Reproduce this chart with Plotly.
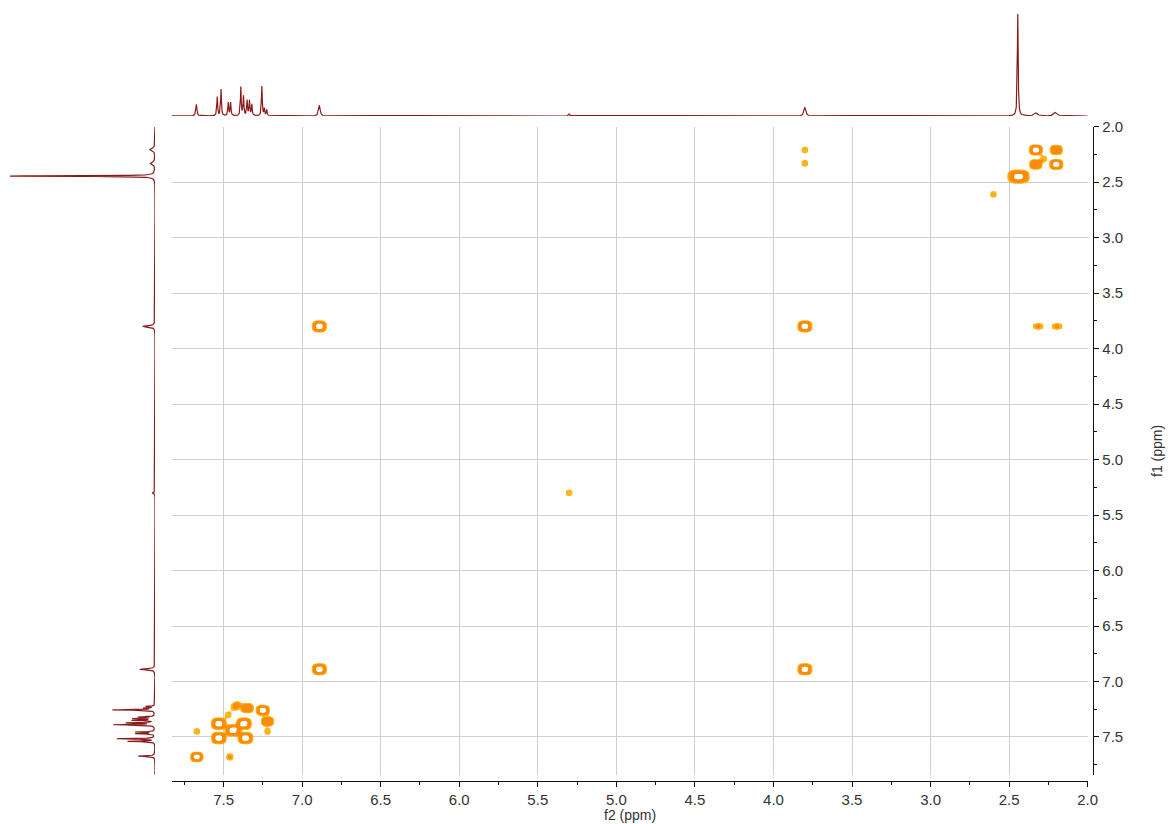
import numpy as np
import plotly.graph_objects as go

# ---------------- data ----------------
# 1D proton spectrum peak list (ppm, relative height, half-width ppm)
spec_ppm = [7.673, 7.540, 7.516, 7.470, 7.455, 7.390, 7.373, 7.350, 7.335, 7.320,
            7.256, 7.240, 7.225, 6.890, 5.300, 3.800, 2.445, 2.330, 2.205]
spec_height = [0.115, 0.185, 0.26, 0.13, 0.13, 0.28, 0.19, 0.15, 0.145, 0.11,
               0.29, 0.07, 0.06, 0.105, 0.02, 0.085, 1.0, 0.03, 0.035]
spec_width = [0.004, 0.003, 0.003, 0.003, 0.003, 0.003, 0.003, 0.003, 0.003, 0.003,
              0.003, 0.003, 0.003, 0.006, 0.005, 0.007, 0.003, 0.012, 0.012]

# 2D cross peaks (f2 ppm, f1 ppm, relative intensity, linewidth f2, linewidth f1)
cp_f2 = [2.33, 2.20, 2.33, 2.20, 2.28, 2.44, 2.60,
         3.80, 3.80, 3.80, 3.80, 6.89, 6.89,
         2.33, 2.30, 2.21, 2.18, 5.30,
         7.67, 7.67, 7.46, 7.53, 7.53, 7.44, 7.37, 7.36, 7.35, 7.25, 7.22,
         7.43, 7.41, 7.22, 7.47]
cp_f1 = [2.21, 2.21, 2.34, 2.34, 2.29, 2.45, 2.61,
         2.21, 2.33, 3.80, 6.89, 3.80, 6.89,
         3.80, 3.80, 3.80, 3.80, 5.30,
         7.68, 7.45, 7.68, 7.38, 7.51, 7.44, 7.38, 7.51, 7.24, 7.26, 7.36,
         7.23, 7.21, 7.45, 7.30]
cp_int = [1.0, 0.7, 0.75, 1.0, 0.28, 0.95, 0.28,
          0.28, 0.28, 1.0, 1.0, 1.0, 1.0,
          0.28, 0.28, 0.28, 0.28, 0.28,
          1.0, 0.28, 0.35, 1.0, 1.0, 1.0, 1.0, 1.0, 0.7, 1.0, 0.7,
          0.3, 0.28, 0.28, 0.28]
cp_w2 = [0.036, 0.036, 0.036, 0.036, 0.024, 0.058, 0.024,
         0.024, 0.024, 0.0385, 0.0385, 0.0385, 0.0385,
         0.022, 0.022, 0.022, 0.022, 0.024,
         0.034, 0.024, 0.024, 0.04, 0.04, 0.04, 0.04, 0.04, 0.036, 0.036, 0.036,
         0.028, 0.024, 0.024, 0.024]
cp_w1 = [0.040, 0.040, 0.040, 0.040, 0.034, 0.052, 0.034,
         0.034, 0.034, 0.0437, 0.0437, 0.0437, 0.0437,
         0.030, 0.030, 0.030, 0.030, 0.034,
         0.038, 0.034, 0.034, 0.045, 0.045, 0.045, 0.045, 0.045, 0.04, 0.04, 0.04,
         0.038, 0.034, 0.034, 0.034]

x_range = [7.83, 2.0]
y_range = [7.84, 2.0]

# ---------------- build curves ----------------
ppm_axis = np.arange(2.0, 7.845, 0.0005)
spec = np.zeros_like(ppm_axis)
for p, h, w in zip(spec_ppm, spec_height, spec_width):
    spec += h / (1.0 + ((ppm_axis - p) / w) ** 2)

gx = np.arange(2.0, 7.84, 0.008)
gy = np.arange(2.0, 7.85, 0.008)
GX, GY = np.meshgrid(gx, gy)
Z = np.zeros_like(GX)
for a, b, A, s2, s1 in zip(cp_f2, cp_f1, cp_int, cp_w2, cp_w1):
    Z += A * np.exp(-(np.abs((GX - a) / s2) ** 3 + np.abs((GY - b) / s1) ** 3))
Z = Z.astype(np.float32)

W, H = 1168, 824
def px(x):
    return x / W
def py(y):
    return 1 - y / H

SPEC_COLOR = "#8a1a1a"
FONT = "Liberation Sans, Arial, Helvetica, sans-serif"
CLEAR = "rgba(255,255,255,0)"
YEL = "#FFB417"
ORA = "#F88C0E"

# value v -> colorscale position (v - 0.125) / 0.9 for levels 0.15..1.0 step 0.05
def s(v):
    return (v - 0.125) / 0.9

cscale = [[0, CLEAR], [s(0.15), CLEAR], [s(0.15), YEL], [s(0.3), YEL],
          [s(0.3), ORA], [s(0.85), ORA], [s(0.85), "#ffffff"], [1, "#ffffff"]]

fig = go.Figure()
fig.add_trace(go.Contour(
    x=gx, y=gy, z=Z, xaxis="x", yaxis="y",
    contours=dict(start=0.15, end=1.0, size=0.05, coloring="fill", showlines=False),
    line=dict(width=0, smoothing=1),
    colorscale=cscale, zmin=0.125, zmax=1.025, zauto=False,
    showscale=False, hoverinfo="skip",
))
fig.add_trace(go.Scatter(
    x=ppm_axis, y=spec, xaxis="x2", yaxis="y2", mode="lines",
    line=dict(color=SPEC_COLOR, width=1.2), hoverinfo="skip", showlegend=False,
))
fig.add_trace(go.Scatter(
    x=spec, y=ppm_axis, xaxis="x3", yaxis="y3", mode="lines",
    line=dict(color=SPEC_COLOR, width=1.2), hoverinfo="skip", showlegend=False,
))

tickfont = dict(family=FONT, size=15, color="#333333")
xdom = [px(171.7), px(1087.7)]
ydom = [py(774.7), py(126.7)]

common = dict(showline=True, linecolor="#111111", linewidth=1,
              ticks="outside", ticklen=5, tickcolor="#111111", tickwidth=1,
              tick0=2.0, dtick=0.5, tickformat=".1f", tickfont=tickfont,
              showgrid=True, gridcolor="#cfcfcf", gridwidth=1, zeroline=False,
              automargin=False,
              minor=dict(dtick=0.25, tick0=2.0, ticks="outside", ticklen=3,
                         tickcolor="#111111", showgrid=False))

fig.update_layout(
    width=W, height=H, margin=dict(l=0, r=0, t=0, b=0, autoexpand=False),
    paper_bgcolor="white", plot_bgcolor="white", showlegend=False,
    xaxis=dict(domain=xdom, range=x_range, anchor="free", position=py(780.7), **common),
    yaxis=dict(domain=ydom, range=y_range, anchor="free", position=px(1093.3),
               side="right", **common),
    xaxis2=dict(domain=xdom, range=x_range, anchor="y2", visible=False, automargin=False),
    yaxis2=dict(domain=[py(116), py(14)], range=[0, 1.0], anchor="x2", visible=False,
                automargin=False),
    xaxis3=dict(domain=[px(10), px(155)], range=[1.0, 0], anchor="y3", visible=False,
                automargin=False),
    yaxis3=dict(domain=ydom, range=y_range, anchor="x3", visible=False, automargin=False),
    annotations=[
        dict(text="f2 (ppm)", x=px(630), y=py(815), xref="paper", yref="paper",
             xanchor="center", yanchor="middle",
             showarrow=False, font=dict(family=FONT, size=14, color="#333333")),
        dict(text="f1 (ppm)", x=px(1157), y=py(451), xref="paper", yref="paper",
             xanchor="center", yanchor="middle",
             showarrow=False, textangle=-90, font=dict(family=FONT, size=14, color="#333333")),
    ],
)

fig.write_html("out.html")
